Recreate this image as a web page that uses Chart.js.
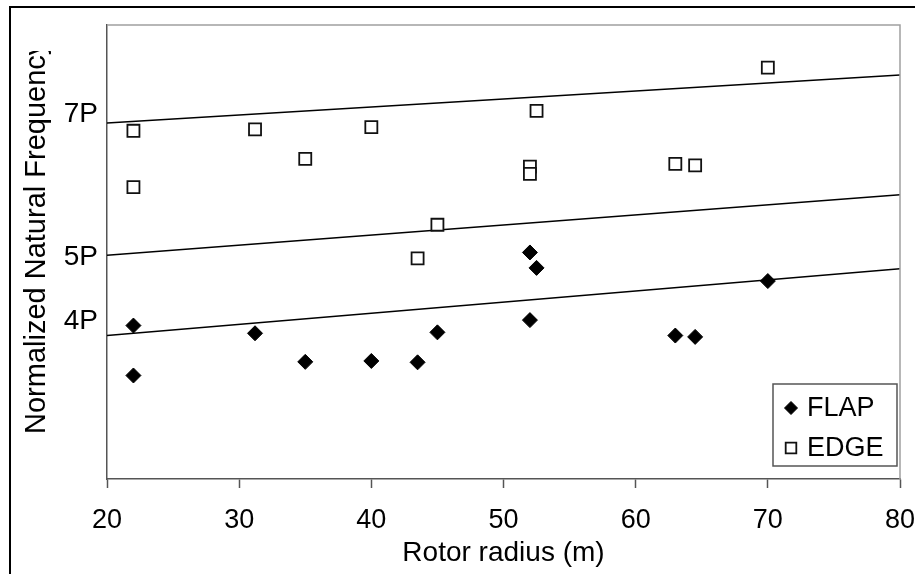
<!DOCTYPE html>
<html>
<head>
<meta charset="utf-8">
<script src="https://cdn.jsdelivr.net/npm/chart.js@4.4.0/dist/chart.umd.min.js"></script>
<style>
    html, body { margin: 0; padding: 0; background: #fff; }
    #wrap { width: 915px; height: 574px; position: relative; }
</style>
</head>
<body>
<div id="wrap"><canvas id="myChart"></canvas></div>
<script>
// rotor radius (m) of each blade
const flapRadius = [22, 22, 31.2, 35, 40, 43.5, 45, 52, 52, 52.5, 63, 64.5, 70];
const flapFreq = [3.38, 2.28, 3.21, 2.58, 2.60, 2.57, 3.23, 4.99, 3.50, 4.65, 3.16, 3.13, 4.36];
const edgeRadius = [22, 22, 31.2, 35, 40, 43.5, 45, 52, 52, 52.5, 63, 64.5, 70];
const edgeFreq = [7.67, 6.43, 7.70, 7.05, 7.75, 4.86, 5.60, 6.88, 6.72, 8.11, 6.94, 6.91, 9.06];

// harmonic lines, given at radius 20 and 80
const lineRadius = [20, 80];
const line7P = [7.84, 8.90];
const line5P = [4.93, 6.26];
const line4P = [3.16, 4.63];

// y axis labels
const harmonicLabels = ['7P', '5P', '4P'];
const harmonicPos = [8.04, 4.89, 3.48];

const FONT = 'Arial, "Liberation Sans", sans-serif';

const toPoints = (xs, ys) => xs.map((x, i) => ({ x, y: ys[i] }));

const harmonicLine = (values) => ({
    type: 'line',
    data: toPoints(lineRadius, values),
    borderColor: '#000',
    borderWidth: 1.5,
    pointRadius: 0,
    showLine: true,
    fill: false,
    order: 2,
});

const data = {
    datasets: [
        {
            label: 'FLAP',
            data: toPoints(flapRadius, flapFreq),
            pointStyle: 'rectRot',
            pointRadius: 7.5,
            backgroundColor: '#000',
            borderColor: '#000',
            borderWidth: 1,
            order: 1,
        },
        {
            label: 'EDGE',
            data: toPoints(edgeRadius, edgeFreq),
            pointStyle: 'rect',
            pointRadius: 8.5,
            backgroundColor: '#fff',
            borderColor: '#111',
            borderWidth: 1.8,
            order: 1,
        },
        harmonicLine(line7P),
        harmonicLine(line5P),
        harmonicLine(line4P),
    ],
};

// frame, rotated axis title and the boxed legend
const decorations = {
    id: 'decorations',
    afterDraw(chart) {
        const ctx = chart.ctx;
        const area = chart.chartArea;
        ctx.save();

        ctx.strokeStyle = '#a0a0a0';
        ctx.lineWidth = 1.5;
        ctx.beginPath();
        ctx.moveTo(area.left, area.top);
        ctx.lineTo(area.right, area.top);
        ctx.lineTo(area.right, area.bottom);
        ctx.stroke();

        // outer frame runs past the right and bottom edges
        ctx.strokeStyle = '#000';
        ctx.lineWidth = 2;
        ctx.strokeRect(10, 7, 930, 600);

        // title is cut by its box at the top
        ctx.save();
        ctx.beginPath();
        ctx.rect(12, 51, 90, 500);
        ctx.clip();
        ctx.translate(37, 434);
        ctx.rotate(-Math.PI / 2);
        ctx.font = '29px ' + FONT;
        ctx.fillStyle = '#000';
        ctx.textAlign = 'left';
        ctx.textBaseline = 'middle';
        ctx.fillText('Normalized Natural Frequency', 0, 0);
        ctx.restore();

        ctx.fillStyle = '#fff';
        ctx.fillRect(773, 384, 124, 82);
        ctx.strokeStyle = '#555';
        ctx.lineWidth = 1.5;
        ctx.strokeRect(773, 384, 124, 82);
        const rows = [408, 448];
        [0, 1].forEach((i) => {
            const ds = chart.data.datasets[i];
            ctx.fillStyle = ds.backgroundColor;
            ctx.strokeStyle = ds.borderColor;
            ctx.lineWidth = ds.borderWidth;
            Chart.helpers.drawPoint(ctx, {
                pointStyle: ds.pointStyle,
                radius: i === 0 ? 6.5 : 7.5,
                borderWidth: ds.borderWidth,
                rotation: 0,
            }, 791, rows[i]);
            ctx.fillStyle = '#000';
            ctx.font = '27px ' + FONT;
            ctx.textAlign = 'left';
            ctx.textBaseline = 'middle';
            ctx.fillText(ds.label, 807, rows[i] + 1);
        });
        ctx.restore();
    },
};

const config = {
    type: 'scatter',
    data,
    options: {
        responsive: true,
        maintainAspectRatio: false,
        animation: false,
        layout: {
            autoPadding: false,
            padding: { top: 25, right: 15, left: 0, bottom: 0 },
        },
        plugins: {
            legend: { display: false },
            tooltip: { enabled: false },
        },
        scales: {
            x: {
                type: 'linear',
                min: 20,
                max: 80,
                afterFit: (scale) => {
                    scale.height = 95;
                    scale.paddingLeft = 0;
                    scale.paddingRight = 0;
                },
                ticks: {
                    stepSize: 10,
                    color: '#000',
                    padding: 16,
                    maxRotation: 0,
                    font: { size: 27, family: FONT },
                },
                grid: {
                    drawOnChartArea: false,
                    drawTicks: true,
                    tickLength: 9,
                    color: '#555',
                    tickWidth: 1.5,
                },
                border: { color: '#555', width: 1.5 },
                title: {
                    display: true,
                    text: 'Rotor radius (m)',
                    color: '#000',
                    padding: { top: 0, bottom: 4 },
                    font: { size: 28, family: FONT },
                },
            },
            y: {
                type: 'linear',
                min: 0,
                max: 10,
                afterFit: (scale) => {
                    scale.width = 107;
                    scale.paddingTop = 0;
                    scale.paddingBottom = 0;
                },
                afterBuildTicks: (axis) => {
                    axis.ticks = harmonicPos.map((v) => ({ value: v }));
                },
                ticks: {
                    color: '#000',
                    padding: 1,
                    callback: (value, index) => harmonicLabels[index],
                    font: { size: 28, family: FONT },
                },
                grid: { display: false },
                border: { display: true, color: '#555', width: 1.5 },
            },
        },
    },
    plugins: [decorations],
};

const myChart = new Chart(document.getElementById('myChart'), config);
</script>
</body>
</html>
